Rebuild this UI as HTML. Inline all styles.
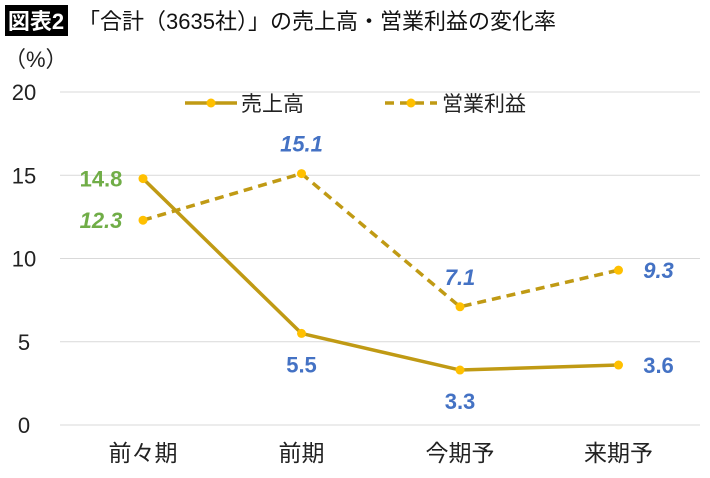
<!DOCTYPE html>
<html><head><meta charset="utf-8"><style>
body{margin:0;background:#fff;width:710px;height:473px;overflow:hidden;font-family:"Liberation Sans","Noto Sans CJK JP",sans-serif}
</style></head><body>
<svg width="710" height="473">
<rect x="5" y="5" width="63" height="31" fill="#000"/>
<text x="36" y="29" fill="#fff" font-size="22" font-weight="bold" text-anchor="middle" font-family="Liberation Sans,Noto Sans CJK JP,sans-serif">図表2</text>
<text x="78" y="29" font-size="22" fill="#111" font-family="Liberation Sans,Noto Sans CJK JP,sans-serif">「合計（3635社）」の売上高・営業利益の変化率</text>
<text x="4" y="67" font-size="22" fill="#222" font-family="Liberation Sans,Noto Sans CJK JP,sans-serif">（%）</text>
<g id="g"></g>
</svg>
<script>
const categories=["前々期","前期","今期予","来期予"];
const sales=[14.8,5.5,3.3,3.6];
const profit=[12.3,15.1,7.1,9.3];
const yTicks=[0,5,10,15,20];
const salesLabelColors=["#70AD47","#4472C4","#4472C4","#4472C4"];
const profitLabelColors=["#70AD47","#4472C4","#4472C4","#4472C4"];
const ns="http://www.w3.org/2000/svg",g=document.getElementById("g");
const x=i=>143+i*158.5, y=v=>425-v*16.65;
function el(t,a,txt){const e=document.createElementNS(ns,t);for(const k in a)e.setAttribute(k,a[k]);if(txt!=null)e.textContent=txt;g.appendChild(e);return e;}
yTicks.forEach(v=>{
 const l=el("line",{x1:60,x2:700,y1:y(v),y2:y(v),stroke:"#d9d9d9","stroke-width":1});
 
 
 const t=el("text",{x:24,y:y(v)+8,"font-size":22,fill:"#222","text-anchor":"middle"},v);
 
 
});
categories.forEach((c,i)=>{
 const t=el("text",{x:x(i),y:461,"font-size":23,fill:"#222","text-anchor":"middle"},c);
 
 
});
const sp=el("polyline",{points:sales.map((v,i)=>x(i)+","+y(v)).join(" "),fill:"none",stroke:"#C09A14","stroke-width":3.5});


const pp=el("polyline",{points:profit.map((v,i)=>x(i)+","+y(v)).join(" "),fill:"none",stroke:"#C09A14","stroke-width":3.5,"stroke-dasharray":"9,6"});


sales.forEach((v,i)=>{
 const c=el("circle",{cx:x(i),cy:y(v),r:4.5,fill:"#FFC000"});
 
 
});
profit.forEach((v,i)=>{
 const c=el("circle",{cx:x(i),cy:y(v),r:4.5,fill:"#FFC000"});
 
 
});
const sOff=[[-42,8],[0,39],[0,39],[40,8]], pOff=[[-42,8],[0,-22],[0,-22],[40,8]];
sales.forEach((v,i)=>{
 const t=el("text",{x:x(i)+sOff[i][0],y:y(v)+sOff[i][1],"font-size":22,"font-weight":"bold",fill:salesLabelColors[i],"text-anchor":"middle"},v.toFixed(1));
 
 
});
profit.forEach((v,i)=>{
 const t=el("text",{x:x(i)+pOff[i][0],y:y(v)+pOff[i][1],"font-size":22,"font-weight":"bold","font-style":"italic",fill:profitLabelColors[i],"text-anchor":"middle"},v.toFixed(1));
 
 
});
const l1=el("line",{x1:185,x2:237,y1:103,y2:103,stroke:"#C09A14","stroke-width":3.5});


const c1=el("circle",{cx:211,cy:103,r:4.5,fill:"#FFC000"});


const t1=el("text",{x:241,y:111,"font-size":21,fill:"#222"},"売上高");


const l2=el("line",{x1:385,x2:437,y1:103,y2:103,stroke:"#C09A14","stroke-width":3.5,"stroke-dasharray":"9,6"});


const c2=el("circle",{cx:411,cy:103,r:4.5,fill:"#FFC000"});


const t2=el("text",{x:442,y:111,"font-size":21,fill:"#222"},"営業利益");


</script>
</body></html>
